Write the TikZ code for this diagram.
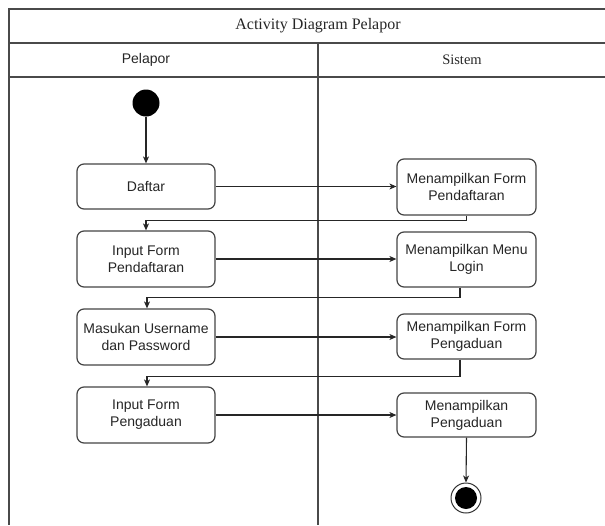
\documentclass[tikz,border=0pt]{standalone}
\usepackage{fontspec}
\setmainfont{Liberation Serif}
\setsansfont{Liberation Sans}
\usetikzlibrary{arrows.meta}
\definecolor{framec}{HTML}{4A4A4A}
\definecolor{boxc}{HTML}{444444}
\definecolor{txtc}{HTML}{262626}
\tikzset{
  frameline/.style={draw=framec, line width=1.2pt},
  actbox/.style={draw=boxc, line width=1.2pt, rounded corners=7pt, fill=white,
    font=\sffamily\fontsize{14}{17}\selectfont, text=txtc, align=center, inner sep=0pt},
  flow/.style={draw=black!85, line width=1.1pt, -{Stealth[length=7pt,width=6pt,inset=2pt]}},
  lanetitle/.style={font=\fontsize{14.5}{17}\selectfont, text=black!85}
}
\begin{document}
\begin{tikzpicture}[x=1pt,y=-1pt]
\useasboundingbox (0,0) rectangle (605,525);
% frame
\draw[frameline] (605,9) -- (9,9) -- (9,525);
\draw[frameline] (9,43) -- (605,43);
\draw[frameline] (9,77) -- (605,77);
\draw[frameline] (318,43) -- (318,525);
\node[font=\fontsize{16}{18}\selectfont, text=black!85] (title) at (318,26) {Activity Diagram Pelapor};
\node[font=\sffamily\fontsize{14}{16}\selectfont, text=black!85] (lp) at (146,60) {Pelapor};
\node[lanetitle] (ls) at (462,60) {Sistem};
% start
\node[circle, fill=black, minimum size=27pt, inner sep=0pt] (start) at (146,103) {};
% left boxes
\node[actbox, minimum width=138pt, minimum height=45pt] (daftar) at (146,186.5) {Daftar};
\node[actbox, minimum width=138pt, minimum height=56pt] (ipf) at (146,259) {Input Form\\Pendaftaran};
\node[actbox, minimum width=138pt, minimum height=56pt] (masuk) at (146,337) {Masukan Username\\dan Password};
\node[actbox, minimum width=138pt, minimum height=56pt] (ipg) at (146,415) {Input Form\\Pengaduan};
% right boxes
\node[actbox, minimum width=139pt, minimum height=56pt] (mfp) at (466.5,187) {Menampilkan Form\\Pendaftaran};
\node[actbox, minimum width=139pt, minimum height=55pt] (mml) at (466.5,259.5) {Menampilkan Menu\\Login};
\node[actbox, minimum width=139pt, minimum height=45pt] (mfpg) at (466.5,336.5) {Menampilkan Form\\Pengaduan};
\node[actbox, minimum width=139pt, minimum height=44pt] (mpg) at (466.5,415) {Menampilkan\\Pengaduan};
% end
\node[circle, draw=black!80, line width=1pt, minimum size=30pt, inner sep=0pt] (endo) at (466,498) {};
\node[circle, fill=black, minimum size=22pt, inner sep=0pt] (endi) at (466,498) {};
% connectors
\draw[flow] (start) -- (daftar);
\draw[flow] (daftar) -- (mfp.west |- daftar.east);
\draw[flow] (mfp.south) -- ++(0,5) -| (ipf.north);
\draw[flow] (ipf) -- (mml.west |- ipf.east);
\draw[flow] ([xshift=-6.5pt]mml.south) -- ++(0,10) -| ([xshift=1pt]masuk.north);
\draw[flow] (masuk) -- (mfpg.west |- masuk.east);
\draw[flow] ([xshift=-6.5pt]mfpg.south) -- ++(0,17) -| ([xshift=1pt]ipg.north);
\draw[flow] (ipg) -- (mpg.west |- ipg.east);
\draw[flow] (mpg.south) -- (endo.north);
\end{tikzpicture}
\end{document}
